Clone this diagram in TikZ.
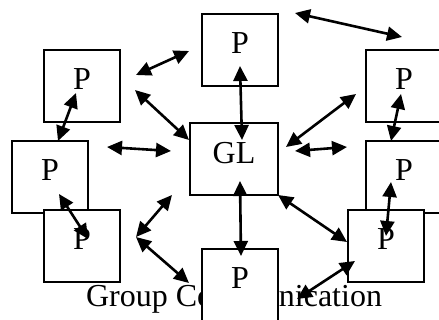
\documentclass[tikz,border=0pt]{standalone}
\usepackage{fontspec}
\setmainfont{Liberation Serif}
\usetikzlibrary{arrows.meta}
\begin{document}
\begin{tikzpicture}[x=1pt,y=-1pt,
  pbox/.style={draw,line width=2pt,fill=white,rectangle,inner sep=0pt,
    minimum width=76pt,minimum height=72pt,text height=40pt,text depth=32pt,
    font=\fontsize{32}{38}\selectfont},
  link/.style={line width=2.6pt,
    {Triangle[length=15pt,width=14pt]}-{Triangle[length=15pt,width=14pt]}}]
\useasboundingbox (0,0) rectangle (439,320);

% caption, partly hidden by the lowest box
\node[anchor=base,inner sep=0pt,font=\fontsize{32}{38}\selectfont] (cap) at (234,307) {Group Communication};

% processes and group leader
\node[pbox] (top) at (240,50) {P};
\node[pbox] (ul) at (82,86) {P};
\node[pbox] (ml) at (50,177) {P};
\node[pbox] (ll) at (82,246) {P};
\node[pbox,minimum width=88pt,text height=41pt,text depth=31pt] (gl) at (234,159) {GL};
\node[pbox] (ur) at (404,86) {P};
\node[pbox] (mr) at (404,177) {P};
\node[pbox] (lr) at (386,246) {P};
\node[pbox] (bt) at (240,285) {P};

% arrow end points
\coordinate (a1) at (136,75);  \coordinate (b1) at (189,51);
\coordinate (a2) at (135,90);  \coordinate (b2) at (189,140);
\coordinate (a3) at (107,147); \coordinate (b3) at (171,151);
\coordinate (a4) at (76,93);   \coordinate (b4) at (58,141);
\coordinate (a5) at (240,66);  \coordinate (b5) at (242,140);
\coordinate (a6) at (295,13);  \coordinate (b6) at (402,37);
\coordinate (a7) at (286,147); \coordinate (b7) at (356,94);
\coordinate (a8) at (295,151); \coordinate (b8) at (347,147);
\coordinate (a9) at (401,94);  \coordinate (b9) at (391,141);
\coordinate (a10) at (59,194); \coordinate (b10) at (88,239);
\coordinate (a11) at (136,237);\coordinate (b11) at (172,195);
\coordinate (a12) at (136,237);\coordinate (b12) at (189,283);
\coordinate (a13) at (240,181);\coordinate (b13) at (241,256);
\coordinate (a14) at (278,195);\coordinate (b14) at (347,242);
\coordinate (a15) at (391,182);\coordinate (b15) at (386,236);
\coordinate (a16) at (355,261);\coordinate (b16) at (297,299);

\foreach \i in {1,...,16} \draw[link] (a\i) -- (b\i);
\end{tikzpicture}
\end{document}
